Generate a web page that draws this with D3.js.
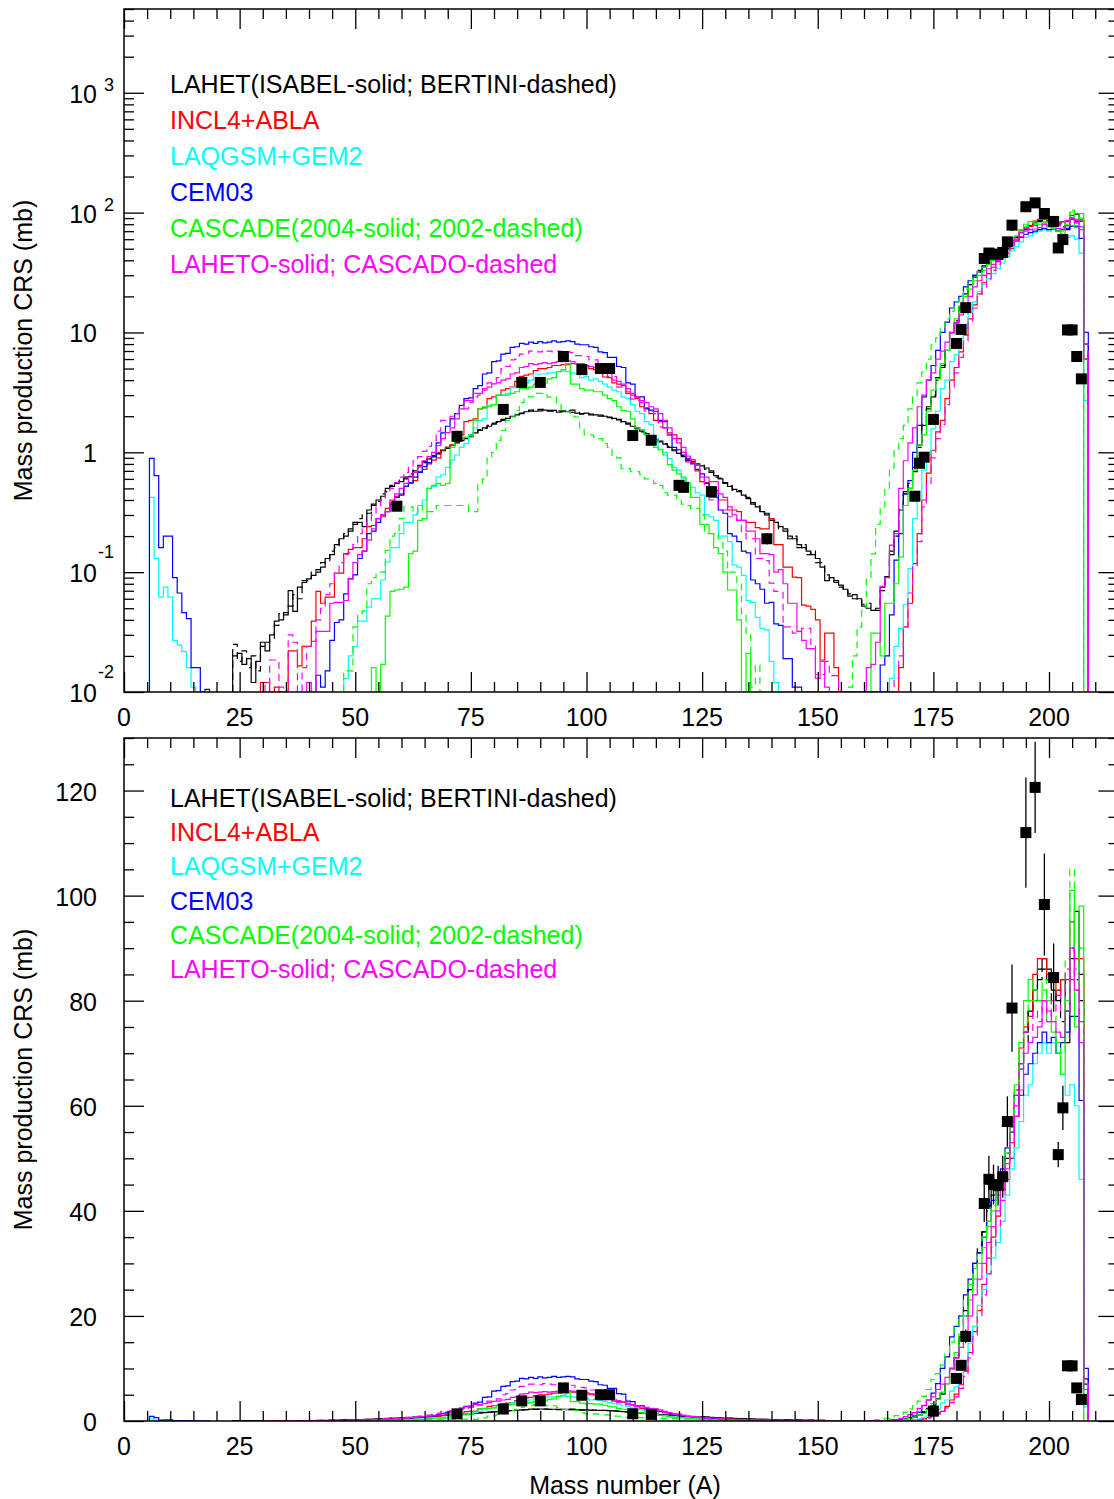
<!DOCTYPE html>
<html><head><meta charset="utf-8">
<script src="https://cdn.jsdelivr.net/npm/d3@7"></script>
<style>
body{margin:0;background:#fff}
text{font-family:"Liberation Sans",Arial,sans-serif}
</style>
</head><body>
<svg id="c" width="1114" height="1499"></svg>
<script>
// ---------------- DATA (mass production cross sections, mb; bins of width 1 in A) ----------------
const xTickLabels = ["0","25","50","75","100","125","150","175","200"];
const yLinTickLabels = ["0","20","40","60","80","100","120"];
const legendLabels = ["LAHET(ISABEL-solid; BERTINI-dashed)","INCL4+ABLA","LAQGSM+GEM2","CEM03","CASCADE(2004-solid; 2002-dashed)","LAHETO-solid; CASCADO-dashed"];

const isabelStart = 24;
const isabel = [0.020,0.021,0.017,0.019,0.012,0.018,0.026,0.022,0.030,0.039,
0.040,0.046,0.070,0.047,0.075,0.082,0.088,0.094,0.10,0.11,
0.13,0.14,0.17,0.19,0.20,0.23,0.25,0.26,0.24,0.33,
0.36,0.40,0.43,0.50,0.52,0.55,0.57,0.60,0.63,0.70,
0.78,0.84,0.88,0.92,0.97,1.03,1.08,1.15,1.20,1.25,
1.30,1.36,1.45,1.52,1.60,1.65,1.72,1.80,1.85,1.92,
1.98,2.05,2.10,2.18,2.25,2.20,2.28,2.25,2.20,2.24,
2.16,2.22,2.18,2.25,2.12,2.10,2.12,2.08,2.05,2.04,
2.00,1.97,1.92,1.86,1.80,1.72,1.65,1.57,1.50,1.43,
1.38,1.30,1.24,1.17,1.10,1.05,0.98,0.92,0.88,0.84,
0.80,0.77,0.74,0.68,0.64,0.60,0.56,0.52,0.49,0.47,
0.44,0.41,0.38,0.35,0.32,0.30,0.28,0.26,0.24,0.22,
0.20,0.19,0.17,0.16,0.15,0.14,0.13,0.11,0.085,0.09,
0.082,0.078,0.072,0.063,0.065,0.060,0.052,0.050,0.048,0.050,
0.075,0.092,0.14,0.22,0.33,0.47,0.50,0.69,1.15,1.68,
2.4,2.9,4.2,5.1,7.1,9.8,12,16,21,25,
30,32,36,41,43,44,46,50,56,62,
68,74,78,82,86,88,86,82,80,84,
72,88,97,85,8];

const bertiniStart = 24;
const bertini = [0.025,0.018,0.022,0.016,0.020,0.015,0.024,0.026,0.028,0.036,
0.045,0.044,0.052,0.065,0.060,0.085,0.085,0.10,0.105,0.12,
0.125,0.15,0.16,0.19,0.21,0.22,0.26,0.28,0.30,0.31,
0.37,0.39,0.45,0.47,0.53,0.56,0.60,0.62,0.66,0.72,
0.76,0.82,0.90,0.94,0.99,1.05,1.10,1.12,1.22,1.28,
1.32,1.40,1.47,1.55,1.58,1.68,1.75,1.78,1.88,1.95,
2.00,2.08,2.12,2.15,2.20,2.25,2.22,2.28,2.24,2.20,
2.22,2.18,2.22,2.15,2.15,2.08,2.10,2.05,2.06,2.00,
2.02,1.95,1.90,1.88,1.78,1.75,1.66,1.60,1.48,1.45,
1.36,1.32,1.22,1.18,1.12,1.03,1.00,0.94,0.86,0.85,
0.78,0.78,0.72,0.70,0.62,0.61,0.55,0.53,0.48,0.48,
0.43,0.42,0.37,0.36,0.31,0.31,0.27,0.27,0.23,0.23,
0.19,0.20,0.16,0.17,0.14,0.15,0.12,0.12,0.095,0.088,
0.085,0.075,0.070,0.066,0.060,0.058,0.054,0.055,0.050,0.048,
0.070,0.090,0.15,0.20,0.35,0.45,0.55,0.75,1.10,1.75,
2.3,3.0,4.0,5.3,7.0,10,12.5,16.5,20,25,
29,33,36,40,44,45,47,51,57,63,
67,72,78,80,84,86,84,80,82,76,
78,90,84,80,7];

const inclStart = 30;
const incl = [0.012,0.012,0.005,0.011,0.005,0.005,0.022,0.022,0.0165,0.024,
0.024,0.039,0.069,0.055,0.062,0.062,0.098,0.098,0.143,0.155,
0.16,0.16,0.19,0.24,0.245,0.28,0.29,0.34,0.40,0.43,
0.45,0.52,0.55,0.58,0.69,0.72,0.80,0.86,0.90,1.05,
1.10,1.15,1.34,1.40,1.80,1.85,1.90,2.3,2.35,2.8,
2.9,3.0,3.3,3.4,3.5,3.9,4.3,4.4,4.5,4.8,
5.0,5.0,5.1,5.3,5.3,5.4,5.4,5.5,5.5,5.5,
5.3,5.0,4.9,4.6,4.25,4.2,3.8,3.7,3.6,3.1,
3.0,2.8,2.4,2.35,2.1,1.85,1.8,1.6,1.45,1.4,
1.3,1.0,0.83,0.82,0.70,0.57,0.56,0.42,0.42,0.40,
0.40,0.33,0.33,0.32,0.27,0.26,0.26,0.235,0.23,0.23,
0.28,0.17,0.17,0.11,0.11,0.091,0.09,0.053,0.052,0.049,
0.04,0.0185,0.031,0.031,0.016,0,0,0,0,0,
0,0,0,0,0,0,0,0.008,0.016,0.035,
0.055,0.118,0.21,0.40,0.67,1.04,1.48,1.85,2.8,4.0,
5.1,6.9,9.5,13,17,21,26,31,35,39,
44,46,50,60,71,75,77,85,88,88,
85,84,81,84,84,95,88,88,6];

const laqLowStart = 6;
const laqLow = [0.42,0.13,0.062,0.075,0.062,0.027,0.0246,0.0217,0.016,0.011];
const laqStart = 48;
const laq = [0.013,0.020,0.024,0.039,0.039,0.051,0.060,0.060,0.086,0.122,
0.16,0.16,0.21,0.26,0.26,0.30,0.36,0.40,0.50,0.52,
0.62,0.65,0.75,0.86,0.95,1.1,1.18,1.4,1.6,1.85,
1.9,2.46,2.5,3.0,3.0,3.1,3.46,3.5,3.8,3.8,
4.0,4.5,4.5,4.5,4.6,4.6,4.7,4.75,4.7,4.6,
4.5,4.2,4.3,4.0,4.1,3.9,3.7,3.5,3.3,3.2,
2.9,2.8,2.5,2.2,2.1,1.8,1.7,1.3,1.06,1.0,
0.89,0.75,0.71,0.60,0.55,0.51,0.46,0.44,0.30,0.29,
0.27,0.20,0.20,0.18,0.115,0.11,0.094,0.058,0.056,0.042,
0.034,0.033,0.018,0.012,0,0,0,0,0,0,
0,0,0,0,0,0,0,0,0,0,
0,0,0,0,0,0,0,0,
0.013,0.024,0.034,0.054,0.107,0.28,0.40,0.71,1.0,1.57,
2.2,3.4,4.0,5.7,6.5,8.6,10.8,14.8,18,22,
25,28,31,34,38,43,48,52,57,62,
64,68,70,72,70,72,70,66,62,64,
60,46,2.7];

const cemLowStart = 6;
const cemLow = [0.89,0.64,0.16,0.20,0.20,0.090,0.067,0.046,0.041,0.016,0.016,0.008,0.0105];
const cemStart = 42;
const cem = [0.0138,0.011,0.015,0.027,0.038,0.040,0.066,0.088,0.095,0.13,
0.15,0.21,0.22,0.26,0.30,0.32,0.37,0.42,0.44,0.52,
0.56,0.62,0.68,0.76,0.82,0.92,1.2,1.45,1.65,1.9,
2.1,2.46,2.8,2.85,3.4,3.6,4.5,4.6,5.7,5.8,
6.6,6.7,7.5,7.6,8.1,8.0,8.3,8.1,8.4,8.2,
8.3,8.5,8.3,8.4,8.5,8.4,8.0,7.9,7.9,7.6,
7.5,6.9,6.8,6.2,6.2,5.2,5.1,3.8,3.7,2.9,
2.9,2.3,2.25,2.2,1.85,1.8,1.4,1.1,1.05,0.95,
0.85,0.80,0.72,0.66,0.55,0.50,0.48,0.33,0.31,0.21,
0.20,0.18,0.15,0.145,0.086,0.080,0.072,0.055,0.056,0.037,
0.036,0.019,0.019,0.011,0.011,0,0,0,0,0,
0,0,0,0,0,0,0,0,0,0,
0,0,0.0168,0.02,0.044,0.126,0.21,0.45,0.58,1.0,
1.68,2.9,4.0,5.3,7.1,10,12.2,16,18,20,
24,27,30,32,35,38,42,45,48,52,
55,58,62,66,68,70,72,74,72,73,
70,72,74,77,77,61,10];

const cas04Start = 54;
const cas04 = [0.016,0.008,0.017,0.043,0.069,0.071,0.072,0.075,0.143,0.15,
0.27,0.28,0.50,0.53,0.55,0.53,0.55,1.1,1.28,1.28,
1.34,1.34,1.85,2.3,2.39,2.4,2.5,3.0,3.0,3.0,
3.1,3.2,3.4,3.4,3.5,3.7,3.7,3.8,4.1,4.2,
4.7,4.9,5.5,3.7,3.7,3.4,3.3,3.3,3.2,3.2,
3.0,2.8,2.7,2.4,2.24,2.2,1.9,1.6,1.55,1.4,
1.3,1.1,1.05,0.95,0.79,0.71,0.66,0.62,0.55,0.42,
0.42,0.25,0.25,0.21,0.16,0.143,0.10,0.071,0.071,0.04,
0.004,0.021,0.004,0,0,0,0,0,0,0,
0,0,0,0,0,0,0,0,0,0,
0,0,0,0,0,0,0,
0.008,0.031,0.031,0.02,0.055,0.055,0.08,0.134,0.36,0.5,
0.71,1.15,1.4,2.2,3.3,4.1,5.5,7.1,9.8,13,
16.5,20,23,27,30,33,37,40,43,47,
51,56,64,72,80,84,82,80,82,76,
74,70,66,80,101,75,98];

const cas02Start = 48;
const cas02 = [0.015,0.015,0.035,0.045,0.0475,0.08,0.09,0.10,0.10,0.152,
0.20,0.21,0.28,0.35,0.35,0.31,0.36,0.32,0.32,0.32,
0.36,0.36,0.36,0.36,0.36,0.36,0.36,0.32,0.32,0.54,
0.60,0.91,1.0,1.26,1.52,1.85,2.0,2.24,2.6,2.89,
2.9,3.1,3.1,3.0,2.89,2.9,2.6,2.24,2.2,2.0,
1.97,1.6,1.4,1.4,1.34,1.3,1.18,1.1,0.91,0.9,
0.73,0.73,0.69,0.69,0.65,0.6,0.6,0.55,0.53,0.46,
0.44,0.44,0.40,0.37,0.36,0.34,0.34,0.30,0.21,0.21,
0.21,0.19,0.15,0.10,0.10,0.08,0.045,0.03,0.011,0.0168,
0,0,0,0,0,0,0,0,0,0,
0,0,0,0,0,0,0,0,0,
0.011,0.02,0.035,0.051,0.09,0.142,0.25,0.35,0.5,0.74,
1.04,1.3,1.68,2.3,2.9,3.8,4.7,6.0,7.9,9.0,
10.7,13,15,18,20,23,26,29,32,35,
38,41,44,47,52,57,63,70,76,80,
80,82,84,80,77,72,70,88,105,82,90];

const lahetoStart = 40;
const laheto = [0.012,0.006,0.032,0.032,0.032,0.055,0.056,0.056,0.058,0.088,
0.12,0.14,0.15,0.185,0.23,0.28,0.30,0.32,0.38,0.45,
0.50,0.55,0.62,0.68,0.76,0.85,0.92,1.0,1.14,1.3,
1.46,1.6,1.9,2.3,2.7,2.7,3.1,3.1,3.3,3.5,
3.73,3.8,4.0,4.1,4.5,4.6,5.1,5.2,5.5,5.4,
5.5,5.6,5.5,5.6,5.7,5.7,5.8,5.7,5.5,5.5,
5.3,5.2,5.1,4.9,4.75,4.6,4.0,3.9,3.7,3.2,
3.1,2.9,2.7,2.6,2.4,2.3,2.1,1.85,1.6,1.3,
1.2,1.1,0.93,0.87,0.78,0.62,0.62,0.57,0.57,0.45,
0.42,0.35,0.30,0.27,0.27,0.22,0.22,0.19,0.143,0.143,
0.14,0.10,0.105,0.08,0.055,0.055,0.032,0.027,0.023,0.023,
0.013,0.018,0.011,0,0,0,0,0,0,0,
0,0.016,0.017,0.026,0.076,0.09,0.168,0.21,0.5,0.85,
1.2,1.6,2.4,3.0,4.0,4.6,6.0,7.0,8.3,10,
12,14,17,20,24,27,30,34,37,40,
44,49,53,58,63,70,72,73,75,80,
78,76,74,73,78,90,82,72,6];

const cascadoStart = 31;
const cascado = [0.012,0.0185,0.0185,0.011,0.005,0.03,0.026,0.006,0.016,0.024,
0.0265,0.04,0.05,0.065,0.08,0.10,0.12,0.14,0.145,0.17,
0.21,0.23,0.27,0.30,0.36,0.40,0.46,0.50,0.56,0.62,
0.68,0.75,0.85,0.92,1.02,1.12,1.25,1.5,1.85,1.85,
2.0,2.1,2.24,2.3,2.6,2.9,3.0,3.4,3.8,3.9,
4.2,5.0,5.2,5.9,6.0,6.6,6.6,7.0,7.0,6.9,
7.1,7.0,6.9,7.0,6.8,6.9,6.8,6.4,6.4,6.3,
5.9,5.9,5.0,5.0,4.3,4.3,3.5,3.5,3.4,2.78,
2.7,2.6,2.2,2.2,2.1,1.63,1.6,1.4,1.4,1.2,
1.0,0.9,0.8,0.7,0.6,0.5,0.4,0.4,0.33,0.33,
0.29,0.29,0.27,0.21,0.19,0.19,0.13,0.13,0.125,0.081,
0.069,0.069,0.035,0.035,0.031,0.031,0.034,0.034,0.024,0.014,
0.014,0.018,0.0137,0.0137,0,0,0,0,0,0,
0,0,0,0,0,0.005,0.013,0.02,0.035,0.067,
0.11,0.18,0.35,0.55,0.9,1.3,1.7,2.5,3.5,4.6,
6.2,8.5,12,16,20,24,28,33,37,42,
48,55,62,68,74,74,78,76,80,76,
80,78,82,86,84,86,76,8];

const expA = [59,72,82,86,90,95,99,103,105,110,114,120,121,127,139,171,172,173,175,180,181,182,186,187,188,189,190,191,192,195,197,199,201,202,203,204,205,206,207];
const expV = [0.355,1.36,2.28,3.83,3.83,6.3,4.9,5.0,5.0,1.38,1.26,0.53,0.51,0.47,0.19,0.43,0.81,0.91,1.88,8.1,10.6,16.1,41.4,46,45,44.8,46.5,57,78.6,112,120.6,98.3,84.4,50.7,59.6,10.5,10.5,6.3,4.1];
const expE = [0.03,0.1,0.2,0.3,0.3,0.5,0.4,0.4,0.4,0.12,0.1,0.05,0.05,0.04,0.02,0.04,0.07,0.08,0.15,0.7,0.9,1.3,3.5,4.5,3.8,3.8,4,4.8,8.3,10.5,8.7,9.7,6.5,2.4,4.2,0.9,0.9,0.5,0.35];

// ---------------- DRAWING ----------------
const svg = d3.select("#c");
const FONT = 25;
const x = d3.scaleLinear().domain([0, 215]).range([124, 124 + 215 * 4.625]);
const X0 = x(0), X1 = x(215);

const panels = [
  {top: 9, bottom: 692, y: d3.scaleLog().domain([0.01, 5000]).range([692, 9]), log: true,
   legendY0: 93, legendDy: 36, minShown: 0},
  {top: 738, bottom: 1421, y: d3.scaleLinear().domain([0, 130]).range([1421, 738]), log: false,
   legendY0: 807, legendDy: 34.2, minShown: 1}
];

const seriesDefs = [
  {start: isabelStart, vals: isabel, color: "#000000", dash: null},
  {start: bertiniStart, vals: bertini, color: "#000000", dash: "7,5"},
  {start: inclStart, vals: incl, color: "#ff0000", dash: null},
  {start: laqLowStart, vals: laqLow, color: "#00ffff", dash: null},
  {start: laqStart, vals: laq, color: "#00ffff", dash: null},
  {start: cemLowStart, vals: cemLow, color: "#0000ff", dash: null},
  {start: cemStart, vals: cem, color: "#0000ff", dash: null},
  {start: cas04Start, vals: cas04, color: "#00ff00", dash: null},
  {start: cas02Start, vals: cas02, color: "#00ff00", dash: "7,5"},
  {start: lahetoStart, vals: laheto, color: "#ff00ff", dash: null},
  {start: cascadoStart, vals: cascado, color: "#ff00ff", dash: "7,5"}
];
const legendColors = ["#000000", "#ff0000", "#00ffff", "#0000ff", "#00ff00", "#ff00ff"];

function stepPoints(start, vals) {
  const pts = [[start - 0.5, 0]];
  vals.forEach((v, i) => { pts.push([start + i - 0.5, v]); pts.push([start + i + 0.5, v]); });
  pts.push([start + vals.length - 0.5, 0]);
  return pts;
}

panels.forEach((p, pi) => {
  const g = svg.append("g");
  const clipId = "clip" + pi;
  svg.append("defs").append("clipPath").attr("id", clipId)
    .append("rect").attr("x", X0).attr("y", p.top).attr("width", X1 - X0).attr("height", p.bottom - p.top);

  const yv = v => p.log ? p.y(Math.min(5000, Math.max(0.01, v))) : p.y(Math.max(0, v));
  const line = d3.line().x(d => x(d[0])).y(d => yv(d[1]));

  const dg = g.append("g").attr("clip-path", `url(#${clipId})`);
  seriesDefs.forEach(s => {
    dg.append("path").attr("d", line(stepPoints(s.start, s.vals)))
      .attr("fill", "none").attr("stroke", s.color).attr("stroke-width", 1.2)
      .attr("stroke-dasharray", s.dash);
  });

  // experimental points with error bars
  const eg = dg.append("g");
  expA.forEach((a, i) => {
    const v = expV[i], e = expE[i];
    if (v < p.minShown) return;
    eg.append("line").attr("x1", x(a)).attr("x2", x(a))
      .attr("y1", yv(v - e)).attr("y2", yv(v + e)).attr("stroke", "#000").attr("stroke-width", 1.3);
    eg.append("rect").attr("x", x(a) - 5.5).attr("y", yv(v) - 5.5).attr("width", 11).attr("height", 11).attr("fill", "#000");
  });

  // axes (ticks inward)
  const xMajor = d3.range(0, 216, 25), xMinor = d3.range(0, 216, 5).filter(d => d % 25 !== 0);
  const addAxis = (axis, tx, ty) => {
    const a = g.append("g").attr("transform", `translate(${tx},${ty})`).call(axis);
    a.select(".domain").remove();
    a.selectAll("line").attr("stroke", "#000").attr("stroke-width", 1.3);
    a.selectAll("text").remove();
  };
  addAxis(d3.axisBottom(x).tickValues(xMajor).tickSize(-20).tickFormat(""), 0, p.bottom);
  addAxis(d3.axisBottom(x).tickValues(xMinor).tickSize(-10).tickFormat(""), 0, p.bottom);
  addAxis(d3.axisTop(x).tickValues(xMajor).tickSize(-20).tickFormat(""), 0, p.top);
  addAxis(d3.axisTop(x).tickValues(xMinor).tickSize(-10).tickFormat(""), 0, p.top);

  let yMajor, yMinor;
  if (p.log) {
    yMajor = [0.01, 0.1, 1, 10, 100, 1000];
    yMinor = [];
    [0.01, 0.1, 1, 10, 100, 1000].forEach(d => { for (let k = 2; k <= 9; k++) if (k * d <= 5000) yMinor.push(k * d); });
  } else {
    yMajor = d3.range(0, 131, 20);
    yMinor = d3.range(0, 131, 5).filter(d => d % 20 !== 0);
  }
  addAxis(d3.axisLeft(p.y).tickValues(yMajor).tickSize(-20).tickFormat(""), X0, 0);
  addAxis(d3.axisLeft(p.y).tickValues(yMinor).tickSize(-10).tickFormat(""), X0, 0);
  addAxis(d3.axisRight(p.y).tickValues(yMajor).tickSize(-20).tickFormat(""), X1, 0);
  addAxis(d3.axisRight(p.y).tickValues(yMinor).tickSize(-10).tickFormat(""), X1, 0);

  g.append("rect").attr("x", X0).attr("y", p.top).attr("width", X1 - X0).attr("height", p.bottom - p.top)
    .attr("fill", "none").attr("stroke", "#000").attr("stroke-width", 1.5);

  // x tick labels
  xMajor.forEach((d, i) => {
    if (i >= xTickLabels.length) return;
    g.append("text").attr("x", x(d)).attr("y", p.bottom + 34).attr("text-anchor", "middle")
      .attr("font-size", FONT).text(xTickLabels[i]);
  });

  // y tick labels
  if (p.log) {
    const logLab = [[1000, "10", "3"], [100, "10", "2"], [10, "10", ""], [1, "1", ""], [0.1, "10", "-1"], [0.01, "10", "-2"]];
    logLab.forEach(([v, b, e]) => {
      const yy = p.y(v);
      g.append("text").attr("x", 97).attr("y", yy + 10).attr("text-anchor", "end").attr("font-size", FONT).text(b);
      if (e) {
        const neg = e[0] === "-";
        g.append("text").attr("x", neg ? 98 : 104).attr("y", neg ? yy - 14 : yy - 2)
          .attr("font-size", 18).text(e);
      }
    });
  } else {
    yMajor.forEach((d, i) => {
      g.append("text").attr("x", 97).attr("y", p.y(d) + 10).attr("text-anchor", "end")
        .attr("font-size", FONT).text(yLinTickLabels[i]);
    });
  }

  // y title
  g.append("text").attr("transform", `translate(32,${(p.top + p.bottom) / 2}) rotate(-90)`)
    .attr("text-anchor", "middle").attr("font-size", FONT).text("Mass production CRS (mb)");

  // legend
  legendLabels.forEach((t, i) => {
    g.append("text").attr("x", 170).attr("y", p.legendY0 + i * p.legendDy)
      .attr("font-size", FONT).attr("fill", legendColors[i]).text(t);
  });
});

svg.append("text").attr("x", 625).attr("y", 1494).attr("text-anchor", "middle")
  .attr("font-size", FONT).text("Mass number (A)");
</script>
</body></html>
